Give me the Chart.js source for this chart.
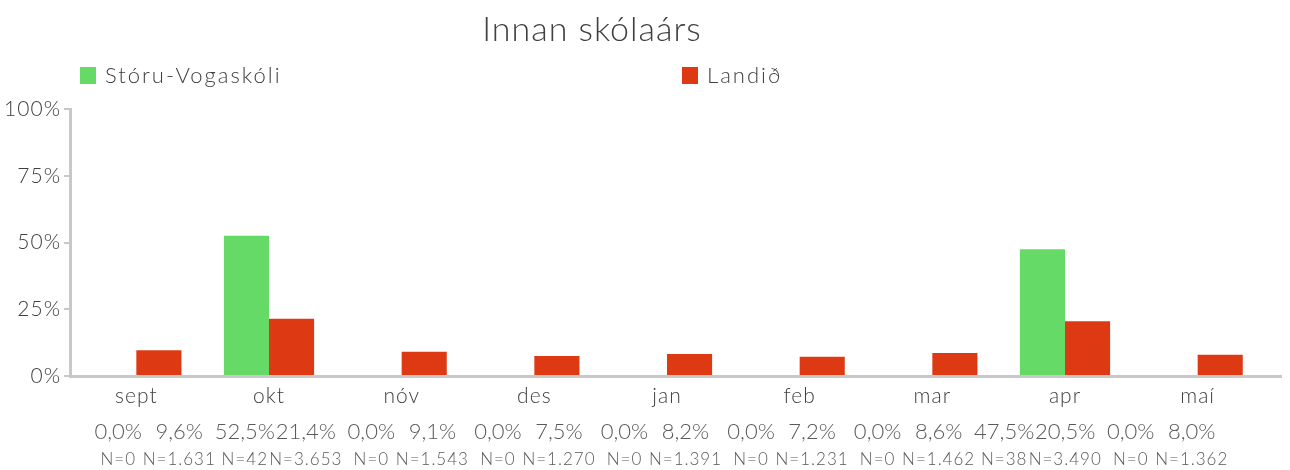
<!DOCTYPE html>
<html>
<head>
<meta charset="utf-8">
<script src="https://cdn.jsdelivr.net/npm/chart.js@4"></script>
<style>
  body { margin: 0; background: #fff; }
  #wrap { width: 1290px; height: 470px; }
</style>
</head>
<body>
<div id="wrap"><canvas id="skolaChart" width="1290" height="470"></canvas></div>
<script>
var months = ["sept", "okt", "nóv", "des", "jan", "feb", "mar", "apr", "maí"];
var skoliValues = [0, 52.5, 0, 0, 0, 0, 0, 47.5, 0];
var landidValues = [9.6, 21.4, 9.1, 7.5, 8.2, 7.2, 8.6, 20.5, 8.0];
var skoliN = [0, 42, 0, 0, 0, 0, 0, 38, 0];
var landidN = [1631, 3653, 1543, 1270, 1391, 1231, 1462, 3490, 1362];
var yTicks = [0, 25, 50, 75, 100];

var fontName = "Lato, 'Open Sans', sans-serif";
var textColor = "#404040";
var axisColor = "#c8c8c8";

function pct(v) {
  return v.toFixed(1).replace(".", ",") + "%";
}
function fmtN(n) {
  return "N=" + String(n).replace(/\B(?=(\d{3})+(?!\d))/g, ".");
}

// the original font is spaced out a bit
var spacing = {
  id: "spacing",
  beforeInit: function(chart) { chart.ctx.letterSpacing = "1px"; },
  beforeDraw: function(chart) { chart.ctx.letterSpacing = "1px"; }
};

// title, legend and the two rows of numbers under the bars
var extras = {
  id: "extras",
  afterDraw: function(chart) {
    var ctx = chart.ctx;
    var area = chart.chartArea;
    ctx.save();

    // x axis line, runs a bit past the plot and over the bar feet
    ctx.strokeStyle = axisColor;
    ctx.lineWidth = 3;
    ctx.beginPath();
    ctx.moveTo(area.left - 1, area.bottom + 0.5);
    ctx.lineTo(1282, area.bottom + 0.5);
    ctx.stroke();

    ctx.fillStyle = textColor;
    ctx.textAlign = "center";
    ctx.textBaseline = "middle";
    ctx.letterSpacing = "1px";
    ctx.font = "300 34px " + fontName;
    ctx.fillText("Innan skólaárs", 592, 30);

    // legend
    var legendX = [80, 682];
    ctx.textAlign = "left";
    ctx.letterSpacing = "2px";
    ctx.font = "300 22px " + fontName;
    chart.data.datasets.forEach(function(ds, i) {
      ctx.fillStyle = ds.backgroundColor;
      ctx.fillRect(legendX[i], 67, 16, 17);
      ctx.fillStyle = textColor;
      ctx.fillText(ds.label, legendX[i] + 25, 76);
    });

    // value rows: the text row is a little narrower than the bars
    var nLists = [skoliN, landidN];
    var cx = (area.left + area.right) / 2;
    ctx.textAlign = "center";
    chart.data.datasets.forEach(function(ds, i) {
      var meta = chart.getDatasetMeta(i);
      meta.data.forEach(function(bar, j) {
        var x = cx - 12 + (bar.x - cx) * 0.954 + (i === 0 ? -9 : 9);
        ctx.fillStyle = "#595959";
        ctx.letterSpacing = "0px";
        ctx.font = "300 22px " + fontName;
        ctx.fillText(pct(ds.data[j]), x, 432);
        ctx.letterSpacing = "1px";
        ctx.font = "300 17px " + fontName;
        ctx.fillText(fmtN(nLists[i][j]), x, 460);
      });
    });
    ctx.restore();
  }
};

var chart = new Chart(document.getElementById("skolaChart"), {
  type: "bar",
  data: {
    labels: months,
    datasets: [
      {
        label: "Stóru-Vogaskóli",
        data: skoliValues,
        backgroundColor: "#66da66"
      },
      {
        label: "Landið",
        data: landidValues,
        backgroundColor: "#dd3a14"
      }
    ]
  },
  options: {
    responsive: false,
    animation: false,
    categoryPercentage: 0.68,
    barPercentage: 1.0,
    layout: { padding: { top: 109, right: 26, left: 0, bottom: 0 } },
    plugins: {
      legend: { display: false },
      title: { display: false },
      tooltip: { enabled: false }
    },
    scales: {
      x: {
        grid: { display: false },
        border: { display: false },
        ticks: {
          color: textColor,
          font: { family: fontName, size: 21, weight: 300 },
          padding: 0,
          maxRotation: 0
        },
        afterFit: function(s) { s.height = 94; }
      },
      y: {
        min: 0,
        max: 100,
        afterBuildTicks: function(s) {
          s.ticks = yTicks.map(function(v) { return { value: v }; });
        },
        grid: { drawOnChartArea: false, color: axisColor, tickLength: 6, lineWidth: 2 },
        border: { color: axisColor, width: 3 },
        ticks: {
          color: textColor,
          font: { family: fontName, size: 21, weight: 300 },
          padding: 3,
          callback: function(v) { return v + "%"; }
        },
        afterFit: function(s) { s.width = 70; }
      }
    }
  },
  plugins: [spacing, extras]
});
</script>
</body>
</html>
